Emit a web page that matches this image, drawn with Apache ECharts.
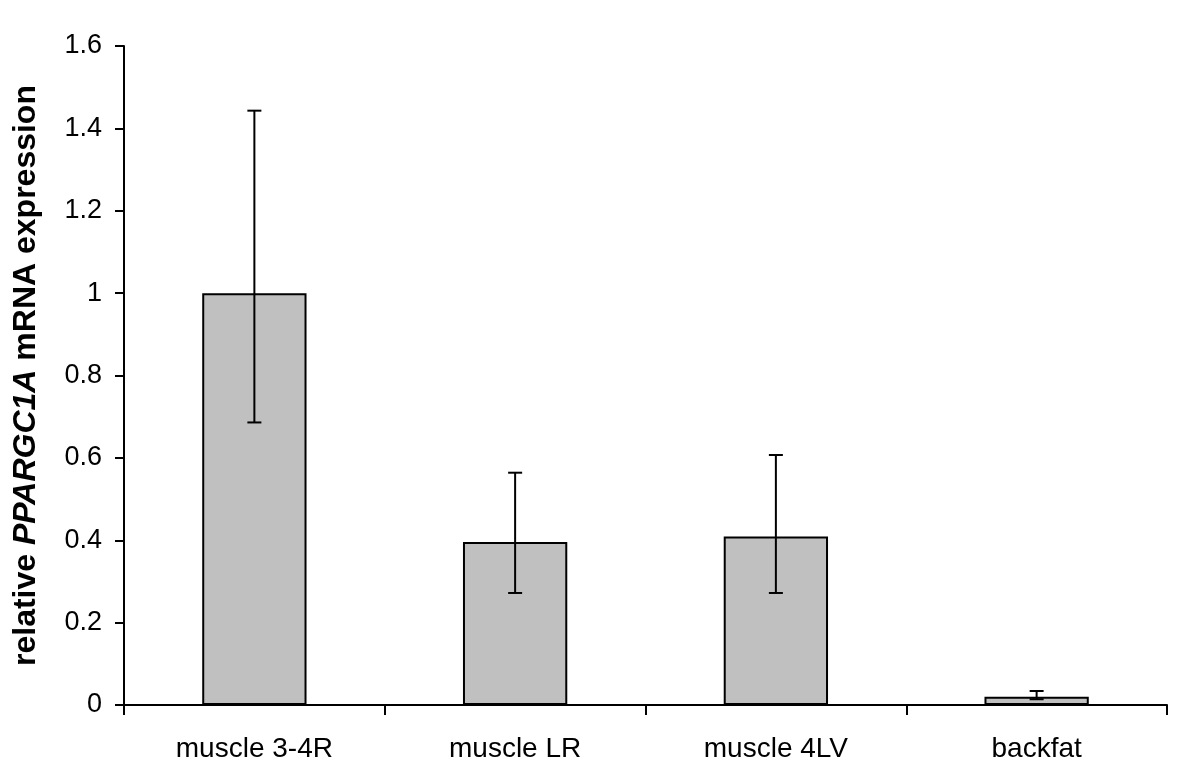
<!DOCTYPE html>
<html>
<head>
<meta charset="utf-8">
<script src="https://cdn.jsdelivr.net/npm/echarts@6/dist/echarts.min.js"></script>
<style>html,body{margin:0;padding:0;background:#fff;}#c{width:1200px;height:784px;}</style>
</head>
<body>
<div id="c"></div>
<script>
const categories = ['muscle 3-4R', 'muscle LR', 'muscle 4LV', 'backfat'];
const values = [1.0, 0.396, 0.409, 0.020];
const errLow = [0.686, 0.272, 0.272, 0.014];
const errHigh = [1.443, 0.564, 0.607, 0.034];
const yTicks = [0, 0.2, 0.4, 0.6, 0.8, 1, 1.2, 1.4, 1.6];

const chart = echarts.init(document.getElementById('c'));
const font = 'Liberation Sans, Arial, sans-serif';
chart.setOption({
  animation: false,
  backgroundColor: '#ffffff',
  grid: { left: 124, right: 33, top: 46, bottom: 79 },
  xAxis: {
    type: 'category',
    data: categories,
    axisLine: { lineStyle: { color: '#000', width: 2 } },
    axisTick: { show: true, length: 10, lineStyle: { color: '#000', width: 2 } },
    axisLabel: { color: '#000', fontFamily: font, fontSize: 28, margin: 30 }
  },
  yAxis: {
    type: 'value',
    min: 0, max: 1.6, interval: 0.2,
    axisLine: { show: true, lineStyle: { color: '#000', width: 2 } },
    axisTick: { show: true, length: 9, lineStyle: { color: '#000', width: 2 } },
    splitLine: { show: false },
    axisLabel: {
      color: '#000', fontFamily: font, fontSize: 27, margin: 22,
      formatter: v => { const t = yTicks.find(x => Math.abs(x - v) < 1e-9); return String(t !== undefined ? t : v); }
    },
    name: '{b|relative }{i|PPARGC1A}{b| mRNA expression}',
    nameLocation: 'middle',
    nameRotate: 90,
    nameGap: 82,
    nameTextStyle: {
      rich: {
        b: { fontFamily: font, fontSize: 32, fontWeight: 'bold', color: '#000' },
        i: { fontFamily: font, fontSize: 32, fontWeight: 'bold', fontStyle: 'italic', color: '#000' }
      }
    }
  },
  series: [
    {
      type: 'bar',
      data: values,
      barWidth: '40%',
      itemStyle: { color: '#c0c0c0', borderColor: '#000', borderWidth: 2 },
      z: 2
    },
    {
      type: 'custom',
      z: 3,
      data: categories.map((c, i) => [i, errLow[i], errHigh[i]]),
      renderItem: function (params, api) {
        const x = api.value(0);
        const lo = api.coord([x, api.value(1)]);
        const hi = api.coord([x, api.value(2)]);
        const hw = 7;
        const st = { stroke: '#000', lineWidth: 2, fill: null };
        return {
          type: 'group',
          children: [
            { type: 'line', shape: { x1: lo[0], y1: lo[1], x2: hi[0], y2: hi[1] }, style: st },
            { type: 'line', shape: { x1: lo[0] - hw, y1: lo[1], x2: lo[0] + hw, y2: lo[1] }, style: st },
            { type: 'line', shape: { x1: hi[0] - hw, y1: hi[1], x2: hi[0] + hw, y2: hi[1] }, style: st }
          ]
        };
      }
    }
  ]
});
</script>
</body>
</html>
